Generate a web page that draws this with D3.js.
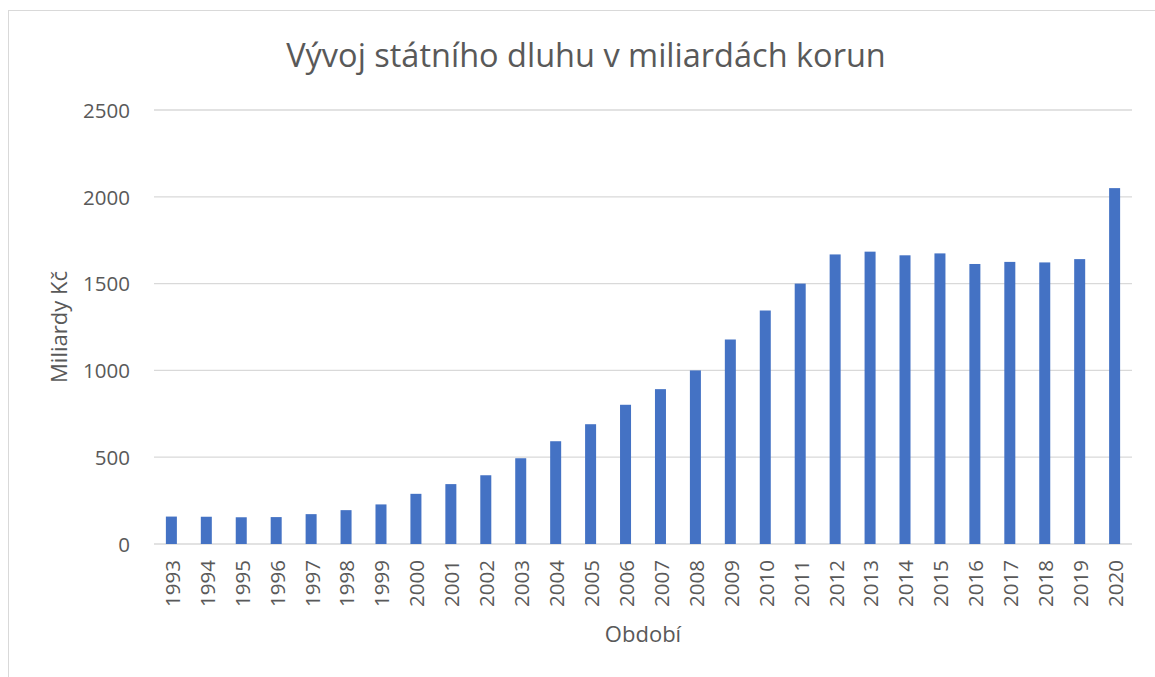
<!DOCTYPE html>
<html>
<head>
<meta charset="utf-8">
<script src="https://cdn.jsdelivr.net/npm/d3@7"></script>
<style>
	body { margin: 0; background: #fff; }
	text { font-family: "Open Sans", sans-serif; fill: #595959; }
</style>
</head>
<body>
<div id="chart"></div>
<script>

var years = ['1993', '1994', '1995', '1996', '1997', '1998', '1999', '2000', '2001', '2002',
	'2003', '2004', '2005', '2006', '2007', '2008', '2009', '2010', '2011', '2012',
	'2013', '2014', '2015', '2016', '2017', '2018', '2019', '2020'];
var debt = [158, 157, 154, 155, 172, 195, 228, 289, 345, 396,
	494, 592, 690, 802, 892, 1000, 1178, 1345, 1500, 1668,
	1684, 1663, 1674, 1613, 1625, 1622, 1641, 2050];
var yTicks = [0, 500, 1000, 1500, 2000, 2500];

var title = 'Vývoj státního dluhu v miliardách korun';
var xTitle = 'Období';
var yTitle = 'Miliardy Kč';

var svgWidth = 1155;
var svgHeight = 677;
var plot = {left: 154, right: 1132, top: 110, bottom: 544};

var svg = d3.select('#chart').append('svg')
	.attr('width', svgWidth)
	.attr('height', svgHeight);

// chart frame
svg.append('rect')
	.attr('x', 8.5).attr('y', 10.5)
	.attr('width', 1160).attr('height', 700)
	.attr('fill', 'none')
	.attr('stroke', '#d9d9d9');

var x = d3.scaleBand().domain(years).range([plot.left, plot.right]).paddingInner(0.685).paddingOuter(0.34);
var y = d3.scaleLinear().domain([0, 2500]).range([plot.bottom, plot.top]);

// gridlines
svg.append('g').selectAll('line')
	.data(yTicks)
	.enter()
	.append('line')
	.attr('x1', plot.left).attr('x2', plot.right)
	.attr('y1', function(d) { return y(d); })
	.attr('y2', function(d) { return y(d); })
	.attr('stroke', '#d9d9d9')
	.attr('stroke-width', 1.3);

// bars
svg.append('g').selectAll('rect')
	.data(debt)
	.enter()
	.append('rect')
	.attr('x', function(d, i) { return x(years[i]); })
	.attr('y', function(d) { return y(d); })
	.attr('width', x.bandwidth())
	.attr('height', function(d) { return y(0) - y(d); })
	.attr('fill', '#4472c4');

// y axis
var yAxis = svg.append('g')
	.attr('transform', 'translate(' + (plot.left - 24) + ',0)')
	.call(d3.axisLeft(y).tickValues(yTicks).tickFormat(d3.format('d')).tickSize(0).tickPadding(0));
yAxis.select('.domain').remove();
yAxis.selectAll('text')
	.style('font-size', '20.5px')
	.attr('dy', '0.36em');

// x axis
var xAxis = svg.append('g')
	.attr('transform', 'translate(0,' + plot.bottom + ')')
	.call(d3.axisBottom(x).tickSize(0).tickPadding(0));
xAxis.select('.domain').remove();
xAxis.selectAll('text')
	.style('font-size', '20.5px')
	.style('text-anchor', 'end')
	.attr('transform', 'rotate(-90)')
	.attr('x', -16)
	.attr('y', 1)
	.attr('dy', '0.36em');

// titles
svg.append('text')
	.attr('x', 586).attr('y', 67)
	.style('text-anchor', 'middle')
	.style('font-size', '32.5px')
	.text(title);

svg.append('text')
	.attr('x', (plot.left + plot.right) / 2).attr('y', 642)
	.style('text-anchor', 'middle')
	.style('font-size', '22px')
	.text(xTitle);

svg.append('text')
	.attr('transform', 'translate(67,' + ((plot.top + plot.bottom) / 2) + ') rotate(-90)')
	.style('text-anchor', 'middle')
	.style('font-size', '22px')
	.text(yTitle);

</script>
</body>
</html>
